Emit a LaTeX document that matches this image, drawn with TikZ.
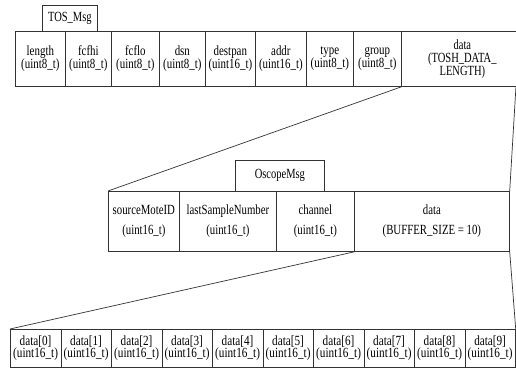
\documentclass[tikz,border=0pt]{standalone}
\usepackage{fontspec}
\setmainfont{Liberation Serif}
\newfontfamily\fa[FakeStretch=0.78]{Liberation Serif}
\newfontfamily\fb[FakeStretch=0.77]{Liberation Serif}
\newfontfamily\fc[FakeStretch=0.8]{Liberation Serif}
\newfontfamily\ft[FakeStretch=0.75]{Liberation Serif}
\begin{document}
\begin{tikzpicture}[x=1pt,y=-1pt,
  line/.style={draw=black!80, line width=0.7pt},
  cell/.style={line, fill=white, anchor=north west, inner sep=0pt, align=center},
  toprow/.style={cell, minimum height=55pt, font=\fa\fontsize{14}{13}\selectfont},
  midrow/.style={cell, minimum height=60pt, font=\fb\fontsize{14}{20}\selectfont},
  botrow/.style={cell, minimum height=38pt, minimum width=50.5pt, font=\fc\fontsize{14}{12.5}\selectfont},
  tab/.style={cell, font=\ft\fontsize{14}{13}\selectfont}]
\useasboundingbox (0,0) rectangle (516,369);
% tabs
\node[tab, minimum width=55pt, minimum height=26pt] (tostab) at (42,5) {TOS\_Msg};
\node[tab, minimum width=89pt, minimum height=31pt] (osctab) at (235,160) {\raisebox{-3pt}{OscopeMsg}};
% top row
\node[toprow, minimum width=50pt] (length) at (15,31) {length\\(uint8\_t)};
\node[toprow, minimum width=46pt] (fcfhi) at (65,31) {fcfhi\\(uint8\_t)};
\node[toprow, minimum width=48pt] (fcflo) at (111,31) {fcflo\\(uint8\_t)};
\node[toprow, minimum width=46pt] (dsn) at (159,31) {dsn\\(uint8\_t)};
\node[toprow, minimum width=50pt] (destpan) at (205,31) {destpan\\(uint16\_t)};
\node[toprow, minimum width=51pt] (addr) at (255,31) {addr\\(uint16\_t)};
\node[toprow, minimum width=47pt] (type) at (306,31) {type\\(uint8\_t)};
\node[toprow, minimum width=48pt] (group) at (353,31) {group\\(uint8\_t)};
\node[toprow, minimum width=122pt, text width=115pt, font=\ft\fontsize{14}{13}\selectfont] (tdata) at (401,31) {data\\(TOSH\_DATA\_\\LENGTH)};
\coordinate (tr) at (516,86);
% middle row
\node[midrow, minimum width=71pt] (src) at (108,191) {sourceMoteID\\(uint16\_t)};
\node[midrow, minimum width=97pt] (last) at (179,191) {lastSampleNumber\\(uint16\_t)};
\node[midrow, minimum width=78pt] (channel) at (276,191) {channel\\(uint16\_t)};
\node[midrow, minimum width=155pt] (mdata) at (354,191) {data\\(BUFFER\_SIZE = 10)};
% bottom row
\foreach \i in {0,...,9} {
  \node[botrow] (b\i) at ({10+50.5*\i},329) {data[\i]\\(uint16\_t)};
}
% connectors
\draw[line] (group.south east) -- (src.north west);
\draw[line] (tr) -- (mdata.north east);
\draw[line] (channel.south east) -- (b0.north west);
\draw[line] (mdata.south east) -- (b9.north east);
\end{tikzpicture}
\end{document}
